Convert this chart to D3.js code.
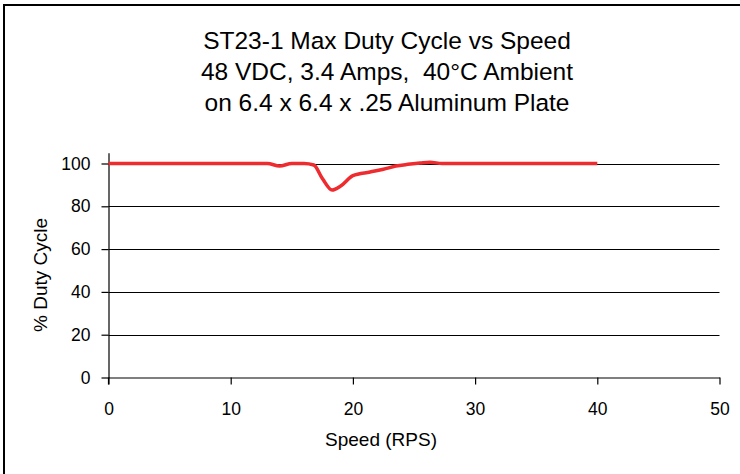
<!DOCTYPE html>
<html><head><meta charset="utf-8">
<script src="https://cdn.jsdelivr.net/npm/d3@7"></script>
<style>body{margin:0;background:#fff}svg{display:block}text{font-family:"Liberation Sans",Arial,Helvetica,sans-serif;fill:#000}</style>
</head><body><svg id="c" width="740" height="474"></svg>
<script>
const titleLines = ["ST23-1 Max Duty Cycle vs Speed", "48 VDC, 3.4 Amps,  40\u00B0C Ambient", "on 6.4 x 6.4 x .25 Aluminum Plate"];
const speed = [0, 2, 4, 6, 8, 10, 12, 13, 14, 15, 16, 16.8, 17.5, 18.3, 19, 20, 21.4, 22.5, 23.5, 24.5, 25.5, 26.3, 27.3, 28, 30, 32, 34, 36, 38, 40];
const duty  = [100, 100, 100, 100, 100, 100, 100, 100, 98.8, 100, 100, 99.3, 93, 87.6, 89.5, 94.3, 96, 97.3, 98.8, 99.6, 100.2, 100.6, 100, 100, 100, 100, 100, 100, 100, 100];
const xTicks = [0, 10, 20, 30, 40, 50];
const yTicks = [0, 20, 40, 60, 80, 100];
const xLabel = "Speed (RPS)";
const yLabel = "% Duty Cycle";

const svg = d3.select("#c");
// outer frame
svg.append("rect").attr("x", 4).attr("y", 5).attr("width", 760).attr("height", 500)
  .attr("fill", "none").attr("stroke", "#000").attr("stroke-width", 2);

const x = d3.scaleLinear().domain([0, 50]).range([108.5, 719.5]);
const y = d3.scaleLinear().domain([0, 105]).range([377.5, 152.8]);

// title
svg.append("g").selectAll("text").data(titleLines).join("text")
  .attr("x", 387).attr("y", (d, i) => 49 + i * 31)
  .attr("text-anchor", "middle").attr("font-size", 24.5).style("white-space", "pre").text(d => d);

// gridlines
svg.append("g").selectAll("line").data(yTicks.filter(d => d > 0)).join("line")
  .attr("x1", x(0)).attr("x2", x(50)).attr("y1", d => Math.round(y(d)) + 0.5).attr("y2", d => Math.round(y(d)) + 0.5)
  .attr("stroke", "#000").attr("stroke-width", 1);

// axes
const yAxis = svg.append("g").attr("transform", `translate(${x(0)},0)`)
  .call(d3.axisLeft(y).tickValues(yTicks).tickSize(7).tickPadding(11).tickSizeOuter(0));
const xAxis = svg.append("g").attr("transform", `translate(0,${y(0)})`)
  .call(d3.axisBottom(x).tickValues(xTicks).tickSize(7).tickPadding(18).tickSizeOuter(0));
[yAxis, xAxis].forEach(g => {
  g.select(".domain").attr("stroke", "#000").attr("stroke-width", 1.2);
  g.selectAll(".tick line").attr("stroke", "#000").attr("stroke-width", 1.2);
  g.selectAll(".tick text").attr("font-size", 17.5).attr("font-family", '"Liberation Sans",Arial,sans-serif').attr("fill", "#000");
});
// extend y axis below x axis (crossing tick)
svg.append("line").attr("x1", x(0)).attr("x2", x(0)).attr("y1", y(0)).attr("y2", y(0) + 7)
  .attr("stroke", "#000").attr("stroke-width", 1.2);

// axis titles
svg.append("text").attr("x", 381).attr("y", 446).attr("text-anchor", "middle").attr("font-size", 19).text(xLabel);
svg.append("text").attr("transform", `translate(47,275) rotate(-90)`).attr("text-anchor", "middle").attr("font-size", 19).text(yLabel);

// line
const pts = speed.map((s, i) => [s, duty[i]]);
svg.append("path").datum(pts)
  .attr("fill", "none").attr("stroke", "#ee2b2f").attr("stroke-width", 3.5).attr("stroke-linejoin", "round")
  .attr("d", d3.line().x(d => x(d[0])).y(d => y(d[1])).curve(d3.curveMonotoneX));
</script></body></html>
